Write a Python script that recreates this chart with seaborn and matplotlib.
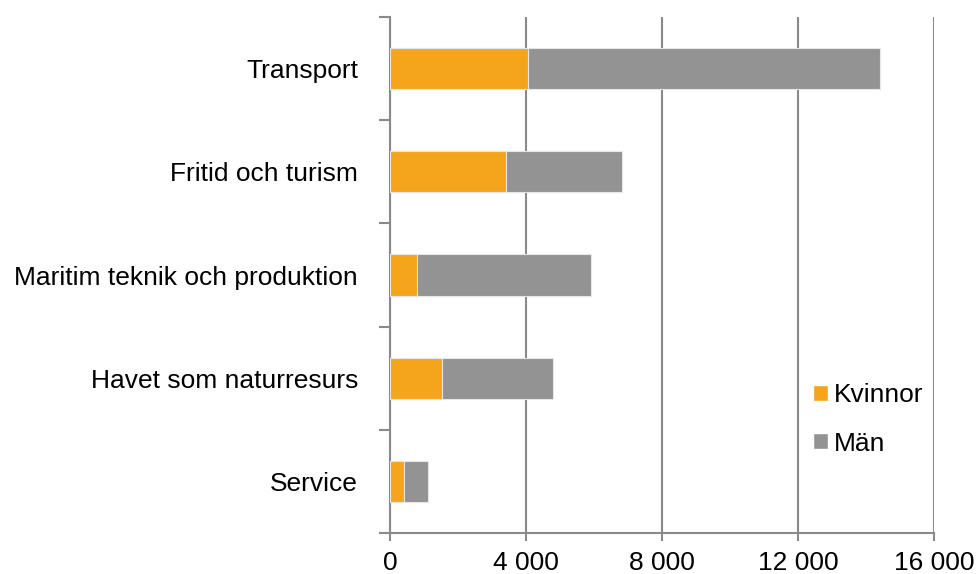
import matplotlib
matplotlib.use("Agg")
import matplotlib.pyplot as plt
import seaborn as sns
import pandas as pd
from matplotlib.patches import Patch
from matplotlib.ticker import FuncFormatter, FixedLocator

# Data (number of employees)
categories = ["Transport", "Fritid och turism", "Maritim teknik och produktion",
              "Havet som naturresurs", "Service"]
kvinnor = [4050, 3400, 790, 1530, 420]
man = [10370, 3415, 5130, 3265, 690]

orange = "#F5A51B"
grey = "#939393"
line_grey = "#8A8A8A"

df = pd.DataFrame({"kategori": categories, "Kvinnor": kvinnor, "Män": man})
df["total"] = df["Kvinnor"] + df["Män"]

sns.set_style("white")
plt.rcParams["font.family"] = ["Liberation Sans", "DejaVu Sans"]
plt.rcParams["text.color"] = "black"
plt.rcParams["xtick.labelcolor"] = "black"
plt.rcParams["ytick.labelcolor"] = "black"

fig = plt.figure(figsize=(9.76, 5.74), dpi=100)
ax = fig.add_axes([0.3996, 0.0714, 0.5574, 0.899])

sns.barplot(data=df, y="kategori", x="total", color=grey, orient="h", saturation=1,
            width=0.4, edgecolor="#E6E6E6", linewidth=0.8, ax=ax, zorder=3)
sns.barplot(data=df, y="kategori", x="Kvinnor", color=orange, orient="h", saturation=1,
            width=0.4, edgecolor="#E6E6E6", linewidth=0.8, ax=ax, zorder=4)

ax.set_xlim(0, 16000)
ax.set_ylim(4.5, -0.5)
ax.set_xticks([0, 4000, 8000, 12000, 16000])
ax.xaxis.set_major_formatter(FuncFormatter(lambda v, p: f"{int(v):,}".replace(",", " ")))
ax.grid(axis="x", color=line_grey, linewidth=1.5, zorder=0)
ax.set_axisbelow(True)

ax.set_xlabel("")
ax.set_ylabel("")

for s in ["top", "right"]:
    ax.spines[s].set_visible(False)
for s in ["left", "bottom"]:
    ax.spines[s].set_color(line_grey)
    ax.spines[s].set_linewidth(1.5)

ax.tick_params(axis="x", which="major", length=6, width=1.5, color=line_grey,
               direction="out", labelsize=19, pad=7, bottom=True)
ax.tick_params(axis="y", which="major", length=0, labelsize=19, pad=23)
ax.yaxis.set_minor_locator(FixedLocator([-0.5, 0.5, 1.5, 2.5, 3.5, 4.5]))
ax.tick_params(axis="y", which="minor", length=8, width=1.5, color=line_grey,
               direction="out", left=True)

handles = [Patch(facecolor=orange, label="Kvinnor"), Patch(facecolor=grey, label="Män")]
ax.legend(handles=handles, loc="upper left", bbox_to_anchor=(0.7776, 0.2907),
          frameon=False, fontsize=19, handlelength=0.55, handleheight=0.55,
          handletextpad=0.25, labelspacing=0.93, borderpad=0, borderaxespad=0)

fig.savefig("out.png", dpi=100)
